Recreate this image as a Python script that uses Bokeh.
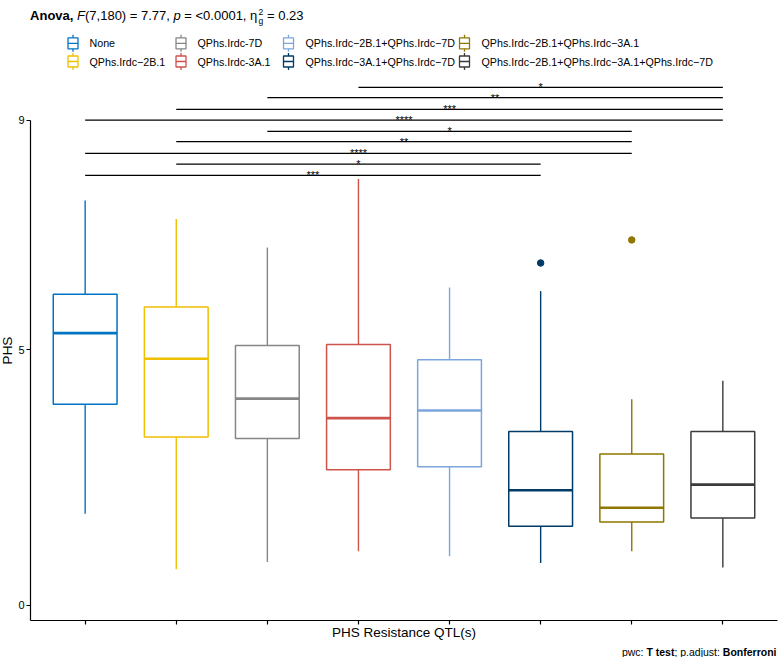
import math
from bokeh.plotting import figure
from bokeh.layouts import column, row
from bokeh.models import Range1d, FixedTicker
from bokeh.core.properties import value
from bokeh.embed import file_html
from bokeh.resources import INLINE

FONT = value("Liberation Sans")

# ---------------- data ----------------
groups = ["None", "QPhs.Irdc\u22122B.1", "QPhs.Irdc-7D", "QPhs.Irdc-3A.1",
          "QPhs.Irdc\u22122B.1+QPhs.Irdc\u22127D", "QPhs.Irdc\u22123A.1+QPhs.Irdc\u22127D",
          "QPhs.Irdc\u22122B.1+QPhs.Irdc\u22123A.1",
          "QPhs.Irdc\u22122B.1+QPhs.Irdc\u22123A.1+QPhs.Irdc\u22127D"]
colors = ["#0073C2", "#EFC000", "#868686", "#CD534C",
          "#7AA6DC", "#003C67", "#8F7700", "#3B3B3B"]
upper = [7.91, 7.55, 6.99, 8.33, 6.21, 6.14, 4.03, 4.39]
q3 = [6.08, 5.83, 5.08, 5.10, 4.80, 3.40, 2.96, 3.40]
median = [5.32, 4.82, 4.04, 3.66, 3.81, 2.25, 1.91, 2.36]
q1 = [3.93, 3.29, 3.26, 2.65, 2.71, 1.55, 1.63, 1.71]
lower = [1.79, 0.71, 0.85, 1.06, 0.96, 0.83, 1.06, 0.74]
outlier_group = [6, 7]
outlier_value = [6.69, 7.14]
pair_from = [4, 3, 2, 1, 3, 2, 1, 2, 1]
pair_to = [8, 8, 8, 8, 7, 7, 7, 6, 6]
pair_y = [10.12, 9.92, 9.69, 9.48, 9.26, 9.06, 8.83, 8.62, 8.40]
pair_label = ["*", "**", "***", "****", "*", "**", "****", "*", "***"]
y_ticks = [0, 5, 9.48]
y_tick_labels = ["0", "5", "9"]
x_title = "PHS Resistance QTL(s)"
y_title = "PHS"

xs = [i + 1 for i in range(len(groups))]
BW = 0.7

def bare(w, h, xr, yr, bottom_border=0):
    f = figure(width=w, height=h, x_range=xr, y_range=yr, output_backend="svg",
               toolbar_location=None, x_axis_location=None, y_axis_location=None,
               min_border=0, min_border_left=0, min_border_right=0,
               min_border_top=0, min_border_bottom=bottom_border)
    f.grid.visible = False
    f.outline_line_color = None
    f.background_fill_color = "white"
    f.border_fill_color = "white"
    return f

# ---------------- top: title + legend ----------------
top = bare(780, 80, Range1d(0, 780), Range1d(80, 0))
tb = 15
title_parts = [
    ("Anova,", 29.6, "bold", "13px", tb),
    ("F", 76.6, "italic", "13px", tb),
    ("(7,180) = 7.77,", 84.5, "normal", "13px", tb),
    ("p", 173.0, "italic", "13px", tb),
    ("= <0.0001, \u03b7", 183.8, "normal", "13px", tb),
    ("2", 258.0, "normal", "8.5px", tb - 3.5),
    ("g", 258.0, "normal", "8.5px", tb + 5.5),
    ("= 0.23", 266.5, "normal", "13px", tb),
]
for t, x, st, sz, y in title_parts:
    top.text(x=[x], y=[y], text=[t], text_font=FONT, text_font_style=st,
             text_font_size=sz, text_color="black", text_align="left",
             text_baseline="alphabetic")

icon_x = [72.5, 180.5, 288.0, 464.0]
label_x = [89.0, 197.0, 305.0, 481.0]
row_y = [42.8, 61.0]
for i, g in enumerate(groups):
    c, r = i // 2, i % 2
    cx, cy = icon_x[c], row_y[r]
    col = colors[i]
    top.segment(x0=[cx], y0=[cy - 8.5], x1=[cx], y1=[cy + 8.5], line_color=col, line_width=1.3)
    top.quad(left=[cx - 5], right=[cx + 5], top=[cy - 5.5], bottom=[cy + 5.5],
             fill_color="white", line_color=col, line_width=1.3)
    top.segment(x0=[cx - 5], y0=[cy], x1=[cx + 5], y1=[cy], line_color=col, line_width=1.3)
    top.text(x=[label_x[c]], y=[cy], text=[g], text_font=FONT, text_font_size="10.7px",
             text_color="black", text_align="left", text_baseline="middle")

# ---------------- left strip: y title ----------------
left = bare(13, 562, Range1d(0, 13), Range1d(0, 540), bottom_border=22)
left.text(x=[6.5], y=[270], text=[y_title], angle=math.pi / 2, text_font=FONT,
          text_font_size="13.5px", text_color="black", text_align="center",
          text_baseline="middle")

# ---------------- main panel ----------------
main = figure(width=767, height=562, x_range=Range1d(0.4, 8.6),
              y_range=Range1d(-0.293, 10.254), output_backend="svg",
              toolbar_location=None, min_border_left=17, min_border_right=3,
              min_border_top=0, min_border_bottom=22)
main.grid.visible = False
main.outline_line_color = None
main.background_fill_color = "white"
main.border_fill_color = "white"

xa = main.xaxis[0]
xa.ticker = FixedTicker(ticks=xs)
xa.major_label_overrides = {x: "" for x in xs}
xa.major_label_text_font_size = "0px"
xa.major_label_standoff = 0
xa.axis_label = x_title
xa.axis_label_text_font = "Liberation Sans"
xa.axis_label_text_font_size = "13.5px"
xa.axis_label_text_font_style = "normal"
xa.axis_label_text_color = "black"
xa.axis_label_standoff = 0
xa.major_tick_out = 4
xa.major_tick_in = 0
xa.minor_tick_out = 0
xa.minor_tick_in = 0
xa.axis_line_color = "black"
xa.major_tick_line_color = "black"
xa.axis_line_width = 1.2
xa.major_tick_line_width = 1.2

ya = main.yaxis[0]
ya.ticker = FixedTicker(ticks=y_ticks)
ya.major_label_overrides = {t: l for t, l in zip(y_ticks, y_tick_labels)}
ya.major_label_text_font = "Liberation Sans"
ya.major_label_text_font_size = "11px"
ya.major_label_text_color = "black"
ya.major_label_standoff = 2
ya.major_tick_out = 4
ya.major_tick_in = 0
ya.minor_tick_out = 0
ya.minor_tick_in = 0
ya.axis_line_color = "black"
ya.major_tick_line_color = "black"
ya.axis_line_width = 1.2
ya.major_tick_line_width = 1.2
ya.bounds = (-0.293, y_ticks[-1])

# whiskers
main.segment(x0=xs, y0=q3, x1=xs, y1=upper, line_color=colors, line_width=1.4)
main.segment(x0=xs, y0=q1, x1=xs, y1=lower, line_color=colors, line_width=1.4)
# boxes
main.vbar(x=xs, width=BW, top=q3, bottom=q1, fill_color="white",
          line_color=colors, line_width=1.5)
# medians
main.segment(x0=[x - BW / 2 for x in xs], y0=median, x1=[x + BW / 2 for x in xs],
             y1=median, line_color=colors, line_width=2.6)
# outliers
main.scatter(x=outlier_group, y=outlier_value, size=6.5,
             color=[colors[g - 1] for g in outlier_group])

# significance brackets
main.segment(x0=pair_from, y0=pair_y, x1=pair_to, y1=pair_y,
             line_color="black", line_width=1.1)
main.text(x=[(a + b) / 2 for a, b in zip(pair_from, pair_to)], y=pair_y, text=pair_label,
          text_font=FONT, text_font_size="11px", text_color="black",
          text_align="center", text_baseline="alphabetic")

# ---------------- bottom caption ----------------
bottom = bare(780, 15, Range1d(0, 780), Range1d(15, 0))
cap_parts = [("pwc:", 621.4, "normal"), ("T test", 645.9, "bold"),
             ("; p.adjust:", 673.9, "normal"), ("Bonferroni", 722.3, "bold")]
for t, x, st in cap_parts:
    bottom.text(x=[x], y=[9.0], text=[t], text_font=FONT, text_font_style=st,
                text_font_size="10.5px", text_color="black", text_align="left",
                text_baseline="alphabetic")

layout = column(top, row(left, main), bottom)
open("out.html", "w").write(file_html(layout, INLINE))
